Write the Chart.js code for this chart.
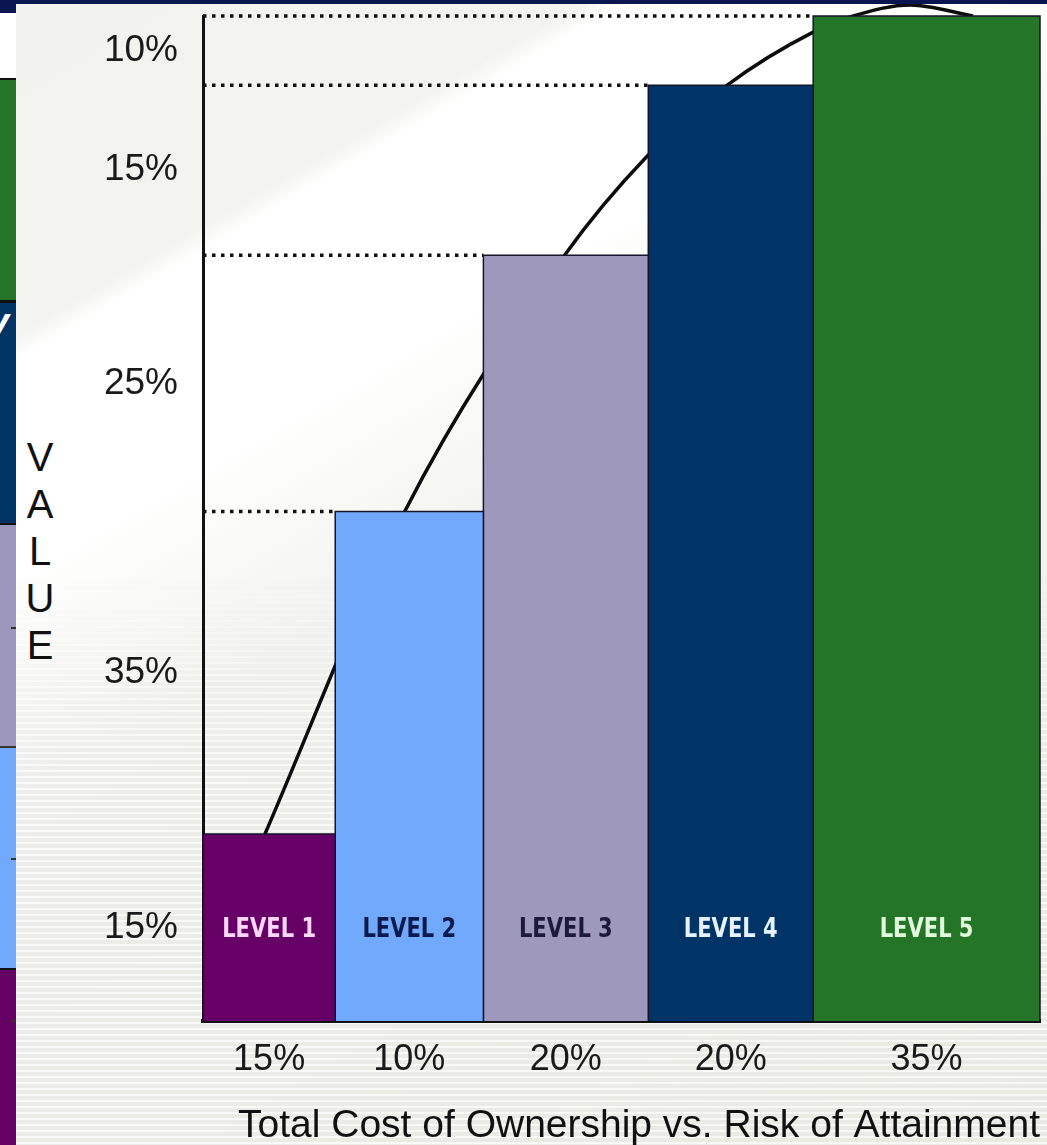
<!DOCTYPE html>
<html>
<head>
<meta charset="utf-8">
<title>Value vs. Total Cost of Ownership</title>
<script src="https://cdn.jsdelivr.net/npm/chart.js@4.4.1/dist/chart.umd.min.js"></script>
<style>
    html, body { margin: 0; padding: 0; }
    body {
        width: 1047px; height: 1145px; overflow: hidden; position: relative;
        background-color: #f2f2ee;
        background-image: linear-gradient(149.6deg, #f2f2ee 0%, #f3f3ef 19.6%, #ffffff 21%, #ffffff 33%, #f3f3ef 46%, #f0f0eb 100%);
        font-family: "Liberation Sans", Arial, sans-serif;
    }
    #stripes {
        position: absolute; left: 0; top: 560px; width: 1047px; height: 585px;
        background: repeating-linear-gradient(180deg, rgba(255,255,255,0.55) 0 2px, rgba(0,0,0,0.025) 2px 6px);
        -webkit-mask-image: linear-gradient(180deg, transparent 0%, #000 35%);
        mask-image: linear-gradient(180deg, transparent 0%, #000 35%);
    }
    #topbar { position: absolute; left: 0; top: 0; width: 1047px; height: 4px; background: #0b1550; z-index: 5; }
    #strip { position: absolute; left: 0; top: 0; width: 16px; height: 1145px; overflow: hidden; z-index: 4; }
    .blk { position: absolute; left: 0; width: 16px; }
    .tick { position: absolute; left: 11px; width: 5px; height: 2px; background: #333; }
    #stripY { position: absolute; left: -13px; top: 300px; color: #fff; font: italic bold 40px "Liberation Sans", Arial, sans-serif; }
    #value {
        position: absolute; left: 20px; top: 434px; width: 40px; text-align: center;
        font-size: 40px; line-height: 47px; color: #111;
    }
    #chartBox { position: absolute; left: 0; top: 0; width: 1047px; height: 1145px; }
</style>
</head>
<body>
<div id="stripes"></div>
<div id="strip">
    <div class="blk" style="top:0;height:13px;background:#0b1550"></div>
    <div class="blk" style="top:13px;height:65px;background:#ffffff"></div>
    <div class="blk" style="top:78px;height:222px;background:#257528;border-top:2px solid #111;box-sizing:border-box"></div>
    <div class="blk" style="top:300px;height:223px;background:#003366;border-top:3px solid #111;box-sizing:border-box"></div>
    <div id="stripY">y</div>
    <div class="blk" style="top:523px;height:223px;background:#9e97bd;border-top:2px solid #111;box-sizing:border-box"></div>
    <div class="blk" style="top:746px;height:222px;background:#71a9fd;border-top:2px solid #333;box-sizing:border-box"></div>
    <div class="blk" style="top:968px;height:177px;background:#650065;border-top:2px solid #111;box-sizing:border-box"></div>
    <div class="tick" style="top:627px"></div>
    <div class="tick" style="top:858px"></div>
    <div class="tick" style="top:1020px"></div>
</div>
<div id="value">V<br>A<br>L<br>U<br>E</div>
<div id="chartBox"><canvas id="valueChart" width="1047" height="1145"></canvas></div>
<div id="topbar"></div>

<script>
// values
const levelLabels = ['LEVEL 1', 'LEVEL 2', 'LEVEL 3', 'LEVEL 4', 'LEVEL 5'];
const levelWidths = [15.8, 17.7, 19.7, 19.7, 27.1];   // share of the cost axis, as drawn
const levelHeights = [18.6, 50.7, 76.2, 93.1, 100];  // bar tops on the value axis, as drawn
const costLabels = ['15%', '10%', '20%', '20%', '35%'];   // x tick labels
const valueLabels = ['15%', '35%', '25%', '15%', '10%'];  // y tick labels, bottom to top
const curveX = [7.4, 24.1, 43.2, 53.0, 62.6, 72.9, 77.7, 84.5, 92.0];
const curveY = [18.6, 50.7, 76.2, 86.0, 93.1, 98.4, 100, 101.1, 100];

const levelColors = ['#660066', '#71a9fd', '#9f98bd', '#003366', '#247528'];
const levelTextColors = ['#fbd9f6', '#0d1a4d', '#1c1a3c', '#e6f3ff', '#e2fbdc'];

// left edges of each level along the x axis
const edges = [0];
levelWidths.forEach((w, i) => edges.push(edges[i] + w));
const centers = levelWidths.map((w, i) => edges[i] + w / 2);
// value labels sit in the middle of each step
const steps = levelHeights.map((h, i) => (i === 0 ? h / 2 : (levelHeights[i - 1] + h) / 2));

const datasets = [];

// the curve sits behind the bars
datasets.push({
    data: curveX.map((x, i) => ({ x: x, y: curveY[i] })),
    borderColor: '#0d0d0d',
    borderWidth: 3.5,
    pointRadius: 0,
    fill: false,
    cubicInterpolationMode: 'monotone',
    clip: false,
    order: 3,
});

// dotted guides from the axis to each bar top
levelHeights.forEach((h, i) => {
    if (i === 0) return;
    datasets.push({
        data: [{ x: 0, y: h }, { x: edges[i], y: h }],
        borderColor: '#111111',
        borderWidth: 3.5,
        borderDash: [3.5, 5.5],
        pointRadius: 0,
        fill: false,
        clip: false,
        order: 2,
    });
});

// bars of varying width, one filled outline each
levelHeights.forEach((h, i) => {
    datasets.push({
        label: levelLabels[i],
        data: [
            { x: edges[i], y: 0 }, { x: edges[i], y: h },
            { x: edges[i + 1], y: h }, { x: edges[i + 1], y: 0 },
        ],
        backgroundColor: levelColors[i],
        borderColor: '#15152a',
        borderWidth: 1.5,
        pointRadius: 0,
        tension: 0,
        fill: 'origin',
        clip: false,
        order: 1,
    });
});

const levelText = {
    id: 'levelText',
    afterDatasetsDraw(chart) {
        const ctx = chart.ctx;
        const xs = chart.scales.x, ys = chart.scales.y;
        ctx.save();
        ctx.font = 'bold 26px "DejaVu Sans Condensed", "DejaVu Sans", sans-serif';
        ctx.textAlign = 'center';
        ctx.textBaseline = 'middle';
        levelLabels.forEach((t, i) => {
            ctx.save();
            ctx.translate(xs.getPixelForValue(centers[i]), ys.getPixelForValue(9));
            ctx.scale(0.9, 1);   // the labels are set in a narrow face
            ctx.fillStyle = levelTextColors[i];
            ctx.fillText(t, 0, 0);
            ctx.restore();
        });
        ctx.restore();
    }
};

const ctx = document.getElementById('valueChart').getContext('2d');
new Chart(ctx, {
    type: 'line',
    data: { datasets: datasets },
    plugins: [levelText],
    options: {
        responsive: false,
        animation: false,
        layout: { padding: { top: 16, right: 7, left: 0, bottom: 0 } },
        plugins: {
            legend: { display: false },
            tooltip: { enabled: false },
        },
        scales: {
            x: {
                type: 'linear',
                min: 0,
                max: 100,
                z: 1,
                grid: { display: false, drawTicks: false },
                border: { display: true, color: '#111111', width: 4 },
                afterBuildTicks: (scale) => { scale.ticks = centers.map(v => ({ value: v })); },
                afterFit: (scale) => { scale.height = 124; },
                ticks: {
                    autoSkip: false,
                    maxRotation: 0,
                    padding: 17,
                    color: '#1a1a1a',
                    font: { family: '"Liberation Sans", Arial, sans-serif', size: 36 },
                    callback: (value, index) => costLabels[index],
                },
                title: {
                    display: true,
                    align: 'end',
                    text: 'Total Cost of Ownership vs. Risk of Attainment',
                    color: '#111111',
                    font: { family: '"Liberation Sans", Arial, sans-serif', size: 39 },
                    padding: { top: 0, bottom: -5 },
                },
            },
            y: {
                type: 'linear',
                min: 0,
                max: 100,
                z: 1,
                grid: { display: false, drawTicks: false },
                border: { display: true, color: '#111111', width: 3 },
                afterBuildTicks: (scale) => { scale.ticks = steps.map(v => ({ value: v })); },
                afterFit: (scale) => {
                    scale.width = 203;
                    scale.paddingTop = 0;
                    scale.paddingBottom = 0;
                },
                ticks: {
                    padding: 25,
                    color: '#1a1a1a',
                    font: { family: '"Liberation Sans", Arial, sans-serif', size: 37 },
                    callback: (value, index) => valueLabels[index],
                },
            },
        },
    },
});
</script>
</body>
</html>
